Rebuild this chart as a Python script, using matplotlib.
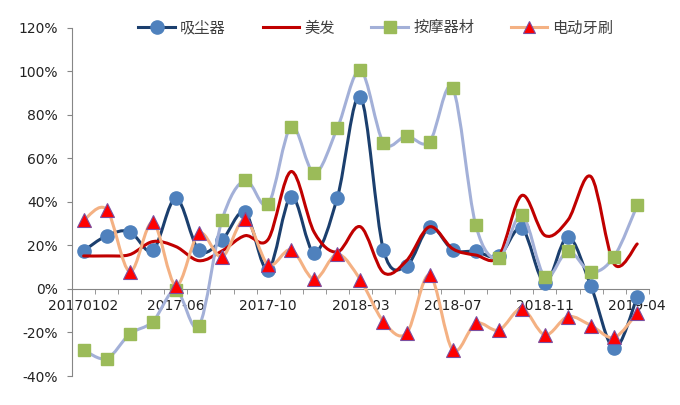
import matplotlib
matplotlib.use("Agg")
import matplotlib.pyplot as plt
from matplotlib.path import Path
from matplotlib.patches import PathPatch
from matplotlib.lines import Line2D
from matplotlib.ticker import FixedLocator, FuncFormatter

plt.rcParams['font.family'] = ['DejaVu Sans']

categories = ["20170102", "2017-03", "2017-04", "2017-05", "2017-06", "2017-07", "2017-08",
              "2017-09", "2017-10", "2017-11", "2017-12", "20180102", "2018-03", "2018-04",
              "2018-05", "2018-06", "2018-07", "2018-08", "2018-09", "2018-10", "2018-11",
              "2018-12", "20190102", "2019-03", "2019-04"]

vacuum = [17.5, 24.5, 26.4, 17.7, 41.7, 17.7, 22.5, 35.2, 8.8, 42.5, 16.7, 42.0, 88.4,
          17.9, 10.6, 28.4, 18.0, 17.3, 15.0, 27.9, 2.8, 24.0, 1.2, -27.3, -3.7]
hair = [15.2, 15.2, 15.8, 21.8, 19.5, 13.0, 17.5, 24.5, 22.8, 54.0, 26.0, 17.0, 28.6,
        7.5, 13.0, 28.6, 18.5, 15.6, 15.0, 43.0, 24.6, 31.7, 51.6, 11.5, 20.7]
massage = [-28.0, -32.0, -20.7, -15.0, -0.5, -17.0, 31.7, 50.0, 39.0, 74.6, 53.2, 73.9,
           100.5, 67.3, 70.3, 67.7, 92.3, 29.4, 14.1, 34.0, 5.6, 17.4, 7.8, 14.9, 38.4]
toothbrush = [31.6, 36.5, 8.0, 30.6, 1.6, 25.6, 14.8, 32.0, 11.2, 18.0, 4.4, 16.0, 4.2,
              -15.0, -20.4, 6.4, -28.0, -15.8, -18.9, -9.1, -21.1, -12.7, -16.8, -22.3, -11.0]

series_names = ["吸尘器", "美发", "按摩器材", "电动牙刷"]
label_every = 4

fig = plt.figure(figsize=(6.8, 4.05), dpi=100)
ax = fig.add_axes([0.106, 0.0716, 0.848, 0.8594])

x = list(range(len(categories)))


def smooth_patch(xs, ys, color, lw, z):
    n = len(xs)
    verts = [(xs[0], ys[0])]
    codes = [Path.MOVETO]
    for i in range(n - 1):
        p0 = i - 1 if i > 0 else i
        p3 = i + 2 if i + 2 < n else i + 1
        c1 = (xs[i] + (xs[i + 1] - xs[p0]) / 6.0, ys[i] + (ys[i + 1] - ys[p0]) / 6.0)
        c2 = (xs[i + 1] - (xs[p3] - xs[i]) / 6.0, ys[i + 1] - (ys[p3] - ys[i]) / 6.0)
        verts += [c1, c2, (xs[i + 1], ys[i + 1])]
        codes += [Path.CURVE4] * 3
    patch = PathPatch(Path(verts, codes), facecolor='none', edgecolor=color, lw=lw,
                      zorder=z, capstyle='round', joinstyle='round')
    ax.add_patch(patch)


c_blue_line = '#1B3F6E'
c_blue_mk = '#4F81BD'
c_red = '#C00000'
c_lav = '#A3B0D8'
c_green = '#9BBB59'
c_tan = '#F4B183'
c_tri = '#FF0000'
c_tri_edge = '#7B4FA0'

smooth_patch(x, vacuum, c_blue_line, 2.2, 3)
ax.plot(x, vacuum, ls='none', marker='o', ms=9.5, mfc=c_blue_mk, mec=c_blue_mk, zorder=3.5)
smooth_patch(x, hair, c_red, 2.2, 4)
smooth_patch(x, massage, c_lav, 2.2, 5)
ax.plot(x, massage, ls='none', marker='s', ms=9, mfc=c_green, mec=c_green, zorder=5.5)
smooth_patch(x, toothbrush, c_tan, 2.2, 6)
ax.plot(x, toothbrush, ls='none', marker='^', ms=9.5, mfc=c_tri, mec=c_tri_edge, mew=0.8,
        zorder=6.5)

ax.set_xlim(-0.5, len(categories) - 0.5)
ax.set_ylim(-40, 120)

for s in ['top', 'right']:
    ax.spines[s].set_visible(False)
ax.spines['left'].set_color('#868686')
ax.spines['bottom'].set_color('#868686')
ax.spines['bottom'].set_position(('data', 0))

ax.yaxis.set_major_locator(FixedLocator([-40, -20, 0, 20, 40, 60, 80, 100, 120]))
ax.yaxis.set_major_formatter(FuncFormatter(lambda v, p: f"{int(round(v))}%"))
ax.tick_params(axis='y', direction='out', length=3.6, color='#868686', labelsize=10,
               labelcolor='#222222', pad=6.5)

ax.xaxis.set_major_locator(FixedLocator(x[::label_every]))
ax.set_xticklabels(categories[::label_every])
ax.xaxis.set_minor_locator(FixedLocator([i - 0.5 for i in range(len(categories) + 1)]))
ax.tick_params(axis='x', which='major', length=0, labelsize=10, labelcolor='#222222', pad=7.5)
ax.tick_params(axis='x', which='minor', direction='out', length=3.6, color='#868686')

handles = [
    Line2D([], [], color=c_blue_line, lw=2.2, marker='o', ms=9.5, mfc=c_blue_mk, mec=c_blue_mk),
    Line2D([], [], color=c_red, lw=2.2),
    Line2D([], [], color=c_lav, lw=2.2, marker='s', ms=9, mfc=c_green, mec=c_green),
    Line2D([], [], color=c_tan, lw=2.2, marker='^', ms=9, mfc=c_tri, mec=c_tri_edge, mew=0.8),
]
leg = ax.legend(handles, series_names, loc='center', bbox_to_anchor=(0.527, 1.0),
                ncol=4, frameon=False, handlelength=2.4, handletextpad=0.33,
                columnspacing=2.4, borderaxespad=0,
                prop={'family': ['Noto Sans CJK SC', 'DejaVu Sans'], 'size': 11})
for t in leg.get_texts():
    t.set_color('#404040')

fig.savefig('out.png', dpi=100)
